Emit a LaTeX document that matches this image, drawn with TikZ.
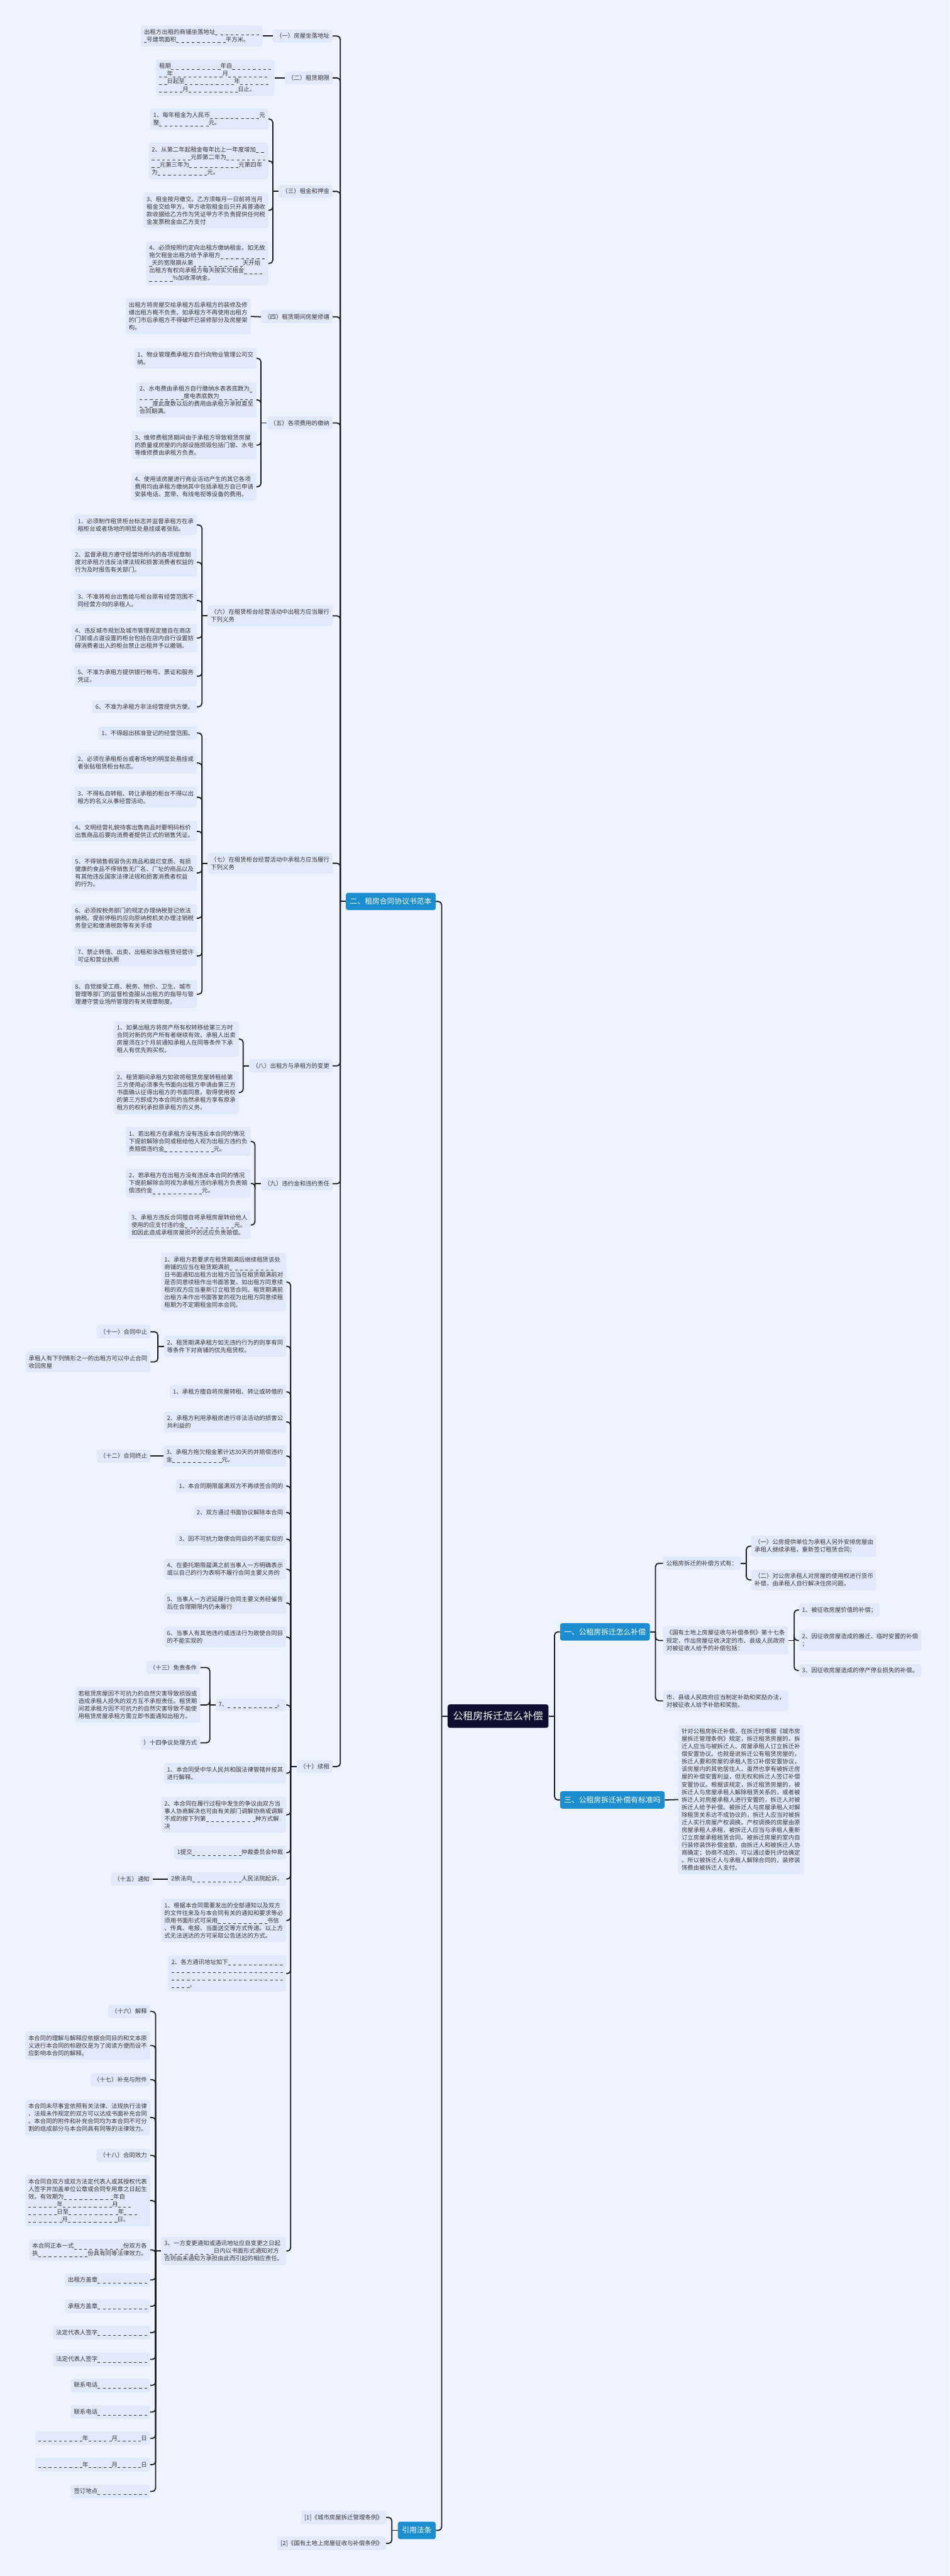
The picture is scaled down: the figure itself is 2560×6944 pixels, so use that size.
\documentclass[tikz,border=0pt]{standalone}
\usepackage{fontspec}
\setmainfont{Noto Sans CJK SC}
\usepackage{xcolor}
\usetikzlibrary{positioning,calc}
\definecolor{mapbg}{RGB}{238,244,255}
\definecolor{mapbox}{RGB}{225,234,251}
\definecolor{mapblue}{RGB}{28,142,208}
\definecolor{mapnavy}{RGB}{14,13,48}
\definecolor{maptext}{RGB}{55,55,60}
\definecolor{mapline}{RGB}{25,25,30}
% blank line for the form fields
\newcommand{\blk}[1]{\rule[-3pt]{7pt}{1.1pt}\ifnum#1>1 \foreach \dd in {2,...,#1}{\hspace{7pt}\rule[-3pt]{7pt}{1.1pt}}\fi}

\begin{document}
\begin{tikzpicture}[x=1pt,y=-1pt,
  root/.style={fill=mapnavy, text=white, rounded corners=6pt, font=\fontsize{27}{32}\selectfont, minimum width=272pt, minimum height=63pt},
  branch/.style={fill=mapblue, text=white, rounded corners=6pt, font=\fontsize{20}{24}\selectfont, inner xsep=11pt, minimum height=47pt},
  card/.style={fill=mapbox, text=maptext, rounded corners=6pt, font=\fontsize{16}{20.4}\selectfont, inner xsep=8.5pt, inner ysep=10pt, align=left},
  lcard/.style={card, anchor=east},
  rcard/.style={card, anchor=west},
  link/.style={draw=mapline, line width=3pt, rounded corners=9pt}]
\fill[mapbg] (0,0) rectangle (2560,6944);
\useasboundingbox (0,0) rectangle (2560,6944);

% Root and main branches
\node[root] (root) at (1343,4626) {公租房拆迁怎么补偿};
\node[branch, anchor=west] (sec1) at (1510,4399) {一、公租房拆迁怎么补偿};
\node[branch, anchor=west] (sec3) at (1510,4852) {三、公租房拆迁补偿有标准吗};
\node[branch, anchor=east] (sec2) at (1175,2430) {二、租房合同协议书范本};
\node[branch, anchor=east] (laws) at (1175,6821) {引用法条};

% Right side: compensation
\node[rcard] (way) at (1788,4214) {公租房拆迁的补偿方式有：};
\node[rcard] (way1) at (2026,4168) {（一）公房提供单位为承租人另外安排房屋由\\承租人继续承租，重新签订租赁合同；};
\node[rcard] (way2) at (2026,4259) {（二）对公房承租人对房屋的使用权进行货币\\补偿，由承租人自行解决住房问题。};
\node[rcard] (rule) at (1788,4422) {《国有土地上房屋征收与补偿条例》第十七条\\规定，作出房屋征收决定的市、县级人民政府\\对被征收人给予的补偿包括：};
\node[rcard] (rule1) at (2154,4340) {1、被征收房屋价值的补偿；};
\node[rcard] (rule2) at (2154,4422) {2、因征收房屋造成的搬迁、临时安置的补偿\\；};
\node[rcard] (rule3) at (2154,4503) {3、因征收房屋造成的停产停业损失的补偿。};
\node[rcard] (aid) at (1788,4585) {市、县级人民政府应当制定补助和奖励办法，\\对被征收人给予补助和奖励。};
\node[rcard] (std) at (1829,4851) {针对公租房拆迁补偿，在拆迁时根据《城市房\\屋拆迁管理条例》规定，拆迁租赁房屋的，拆\\迁人应当与被拆迁人、房屋承租人订立拆迁补\\偿安置协议。也就是说拆迁公有租赁房屋的，\\拆迁人要和房屋的承租人签订补偿安置协议，\\该房屋内的其他居住人，虽然也享有被拆迁房\\屋的补偿安置利益，但无权和拆迁人签订补偿\\安置协议。根据该规定，拆迁租赁房屋的，被\\拆迁人与房屋承租人解除租赁关系的，或者被\\拆迁人对房屋承租人进行安置的，拆迁人对被\\拆迁人给予补偿。被拆迁人与房屋承租人对解\\除租赁关系达不成协议的，拆迁人应当对被拆\\迁人实行房屋产权调换。产权调换的房屋由原\\房屋承租人承租，被拆迁人应当与承租人重新\\订立房屋承租租赁合同。被拆迁房屋的室内自\\行装修装饰补偿金额，由拆迁人和被拆迁人协\\商确定；协商不成的，可以通过委托评估确定\\。所以被拆迁人与承租人解除合同的，装修装\\饰费由被拆迁人支付。};

% Left side: contract headings
\node[lcard] (h1) at (897,97) {（一）房屋坐落地址};
\node[lcard] (h2) at (897,210) {（二）租赁期限};
\node[lcard] (h3) at (897,516) {（三）租金和押金};
\node[lcard] (h4) at (897,854) {（四）租赁期间房屋修缮};
\node[lcard] (h5) at (897,1140) {（五）各项费用的缴纳};
\node[lcard] (h6) at (897,1660) {（六）在租赁柜台经营活动中出租方应当履行\\下列义务};
\node[lcard] (h7) at (897,2327) {（七）在租赁柜台经营活动中承租方应当履行\\下列义务};
\node[lcard] (h8) at (897,2873) {（八）出租方与承租方的变更};
\node[lcard] (h9) at (897,3191) {（九）违约金和违约责任};
\node[lcard] (h10) at (897,4762) {（十）续租};

% (一) to (五)
\node[lcard] (addr) at (708,97) {出租方出租的商铺坐落地址\blk{9}\\\blk{1}号建筑面积\blk{10}平方米。};
\node[lcard] (term) at (740,210) {租期\blk{10}年自\blk{8}\\\blk{2}年\blk{10}月\blk{8}\\\blk{2}日起至\blk{10}年\blk{6}\\\blk{5}月\blk{10}日止。};
\node[lcard] (rent1) at (724,321) {1、每年租金为人民币\blk{10}元\\整\blk{10}元。};
\node[lcard] (rent2) at (724,434) {2、从第二年起租金每年比上一年度增加\blk{2}\\\blk{8}元即第二年为\blk{8}\\\blk{2}元第三年为\blk{10}元第四年\\为\blk{10}元。};
\node[lcard] (rent3) at (724,567) {3、租金按月缴交。乙方须每月一日前将当月\\租金交给甲方。甲方收取租金后只开具普通收\\款收据给乙方作为凭证甲方不负责提供任何税\\金发票税金由乙方支付};
\node[lcard] (rent4) at (724,710) {4、必须按照约定向出租方缴纳租金。如无故\\拖欠租金出租方给予承租方\blk{9}\\\blk{1}天的宽限期从第\blk{10}天开始\\出租方有权向承租方每天按实欠租金\blk{4}\\\blk{5}\%加收滞纳金。};
\node[lcard] (fix) at (676,853) {出租方将房屋交给承租方后承租方的装修及修\\缮出租方概不负责。如承租方不再使用出租方\\的门市后承租方不得破坏已装修部分及房屋架\\构。};
\node[lcard] (fee1) at (692,966) {1、物业管理费承租方自行向物业管理公司交\\纳。};
\node[lcard] (fee2) at (692,1078) {2、水电费由承租方自行缴纳水表表底数为\blk{1}\\\blk{9}度电表底数为\blk{7}\\\blk{3}度此度数以后的费用由承租方承担直至\\合同期满。};
\node[lcard] (fee3) at (692,1200) {3、维修费租赁期间由于承租方导致租赁房屋\\的质量或房屋的内部设施损毁包括门窗、水电\\等维修费由承租方负责。};
\node[lcard] (fee4) at (692,1312) {4、使用该房屋进行商业活动产生的其它各项\\费用均由承租方缴纳其中包括承租方自已申请\\安装电话、宽带、有线电视等设备的费用。};

% (六) lessor duties
\node[lcard] (ld1) at (531,1415) {1、必须制作租赁柜台标志并监督承租方在承\\租柜台或者场地的明显处悬挂或者张贴。};
\node[lcard] (ld2) at (531,1516) {2、监督承租方遵守经营场所内的各项规章制\\度对承租方违反法律法规和损害消费者权益的\\行为及时报告有关部门。};
\node[lcard] (ld3) at (531,1619) {3、不准将柜台出售给与柜台原有经营范围不\\同经营方向的承租人。};
\node[lcard] (ld4) at (531,1720) {4、违反城市规划及城市管理规定擅自在商店\\门前或占道设置的柜台包括在店内自行设置妨\\碍消费者出入的柜台禁止出租并予以撤销。};
\node[lcard] (ld5) at (531,1823) {5、不准为承租方提供银行帐号、票证和服务\\凭证。};
\node[lcard] (ld6) at (531,1905) {6、不准为承租方非法经营提供方便。};

% (七) lessee duties
\node[lcard] (td1) at (531,1976) {1、不得超出核准登记的经营范围。};
\node[lcard] (td2) at (531,2057) {2、必须在承租柜台或者场地的明显处悬挂或\\者张贴租赁柜台标志。};
\node[lcard] (td3) at (531,2149) {3、不得私自转租、转让承租的柜台不得以出\\租方的名义从事经营活动。};
\node[lcard] (td4) at (531,2241) {4、文明经营礼貌待客出售商品时要明码标价\\出售商品后要向消费者提供正式的销售凭证。};
\node[lcard] (td5) at (531,2353) {5、不得销售假冒伪劣商品和腐烂变质、有损\\健康的食品不得销售无厂名、厂址的商品以及\\有其他违反国家法律法规和损害消费者权益\\的行为。};
\node[lcard] (td6) at (531,2475) {6、必须按税务部门的规定办理纳税登记依法\\纳税。提前停租的应向原纳税机关办理注销税\\务登记和缴清税款等有关手续};
\node[lcard] (td7) at (531,2577) {7、禁止转借、出卖、出租和涂改租赁经营许\\可证和营业执照};
\node[lcard] (td8) at (531,2680) {8、自觉接受工商、税务、物价、卫生、城市\\管理等部门的监督检查服从出租方的指导与管\\理遵守营业场所管理的有关规章制度。};

% (八) and (九)
\node[lcard] (chg1) at (644,2801) {1、如果出租方将房产所有权转移给第三方时\\合同对新的房产所有者继续有效。承租人出卖\\房屋须在3个月前通知承租人在同等条件下承\\租人有优先购买权。};
\node[lcard] (chg2) at (644,2945) {2、租赁期间承租方如欲将租赁房屋转租给第\\三方使用必须事先书面向出租方申请由第三方\\书面确认征得出租方的书面同意。取得使用权\\的第三方即成为本合同的当然承租方享有原承\\租方的权利承担原承租方的义务。};
\node[lcard] (pen1) at (676,3077) {1、若出租方在承租方没有违反本合同的情况\\下提前解除合同或租给他人视为出租方违约负\\责赔偿违约金\blk{10}元。};
\node[lcard] (pen2) at (676,3190) {2、若承租方在出租方没有违反本合同的情况\\下提前解除合同视为承租方违约承租方负责赔\\偿违约金\blk{10}元。};
\node[lcard] (pen3) at (676,3302) {3、承租方违反合同擅自将承租房屋转给他人\\使用的应支付违约金\blk{10}元。\\如因此造成承租房屋损坏的还应负责赔偿。};

% (十) renewal and the rest
\node[lcard] (rn1) at (772,3456) {1、承租方若要求在租赁期满后继续租赁该处\\商铺的应当在租赁期满前\blk{9}\\日书面通知出租方出租方应当在租赁期满前对\\是否同意续租作出书面答复。如出租方同意续\\租的双方应当重新订立租赁合同。租赁期满前\\出租方未作出书面答复的视为出租方同意续租\\租期为不定期租金同本合同。};
\node[lcard] (rn2) at (772,3629) {2、租赁期满承租方如无违约行为的则享有同\\等条件下对商铺的优先租赁权。};
\node[lcard] (rn3) at (772,3752) {1、承租方擅自将房屋转租、转让或转借的};
\node[lcard] (rn4) at (772,3833) {2、承租方利用承租房进行非法活动的损害公\\共利益的};
\node[lcard] (rn5) at (772,3925) {3、承租方拖欠租金累计达30天的并赔偿违约\\金\blk{10}元。};
\node[lcard] (rn6) at (772,4006) {1、本合同期限届满双方不再续签合同的};
\node[lcard] (rn7) at (772,4077) {2、双方通过书面协议解除本合同};
\node[lcard] (rn8) at (772,4149) {3、因不可抗力致使合同目的不能实现的};
\node[lcard] (rn9) at (772,4230) {4、在委托期限届满之前当事人一方明确表示\\或以自己的行为表明不履行合同主要义务的};
\node[lcard] (rn10) at (772,4321) {5、当事人一方迟延履行合同主要义务经催告\\后在合理期限内仍未履行};
\node[lcard] (rn11) at (772,4413) {6、当事人有其他违约或违法行为致使合同目\\的不能实现的};
\node[lcard] (rn12) at (772,4596) {7、\blk{10}。};
\node[lcard] (rn13) at (772,4780) {1、本合同受中华人民共和国法律管辖并按其\\进行解释。};
\node[lcard] (rn14) at (772,4892) {2、本合同在履行过程中发生的争议由双方当\\事人协商解决也可由有关部门调解协商或调解\\不成的按下列第\blk{10}种方式解\\决};
\node[lcard] (rn15) at (772,4994) {1提交\blk{10}仲裁委员会仲裁};
\node[lcard] (rn16) at (772,5065) {2依法向\blk{10}人民法院起诉。};
\node[lcard] (rn17) at (772,5177) {1、根据本合同需要发出的全部通知以及双方\\的文件往来及与本合同有关的通知和要求等必\\须用书面形式可采用\blk{10}书信\\、传真、电报、当面送交等方式传递。以上方\\式无法送达的方可采取公告送达的方式。};
\node[lcard] (rn18) at (772,5320) {2、各方通讯地址如下\blk{11}\\\blk{22}\\\blk{22}\\\blk{4}。};
\node[lcard] (rn19) at (772,6068) {3、一方变更通知或通讯地址应自变更之日起\\\blk{10}日内以书面形式通知对方\\否则由未通知方承担由此而引起的相应责任。};

% far left column
\node[lcard] (stop) at (406,3590) {（十一）合同中止};
\node[lcard] (stopc) at (406,3671) {承租人有下列情形之一的出租方可以中止合同\\收回房屋};
\node[lcard] (end) at (406,3925) {（十二）合同终止};
\node[lcard] (free) at (540,4495) {（十三）免责条件};
\node[lcard] (freec) at (540,4596) {若租赁房屋因不可抗力的自然灾害导致损毁或\\造成承租人损失的双方互不承担责任。租赁期\\间若承租方因不可抗力的自然灾害导致不能使\\用租赁房屋承租方需立即书面通知出租方。};
\node[lcard] (dispute) at (540,4698) {）十四争议处理方式};
\node[lcard] (notice) at (412,5065) {（十五）通知};
\node[lcard] (f1) at (405,5422) {（十六）解释};
\node[lcard] (f2) at (405,5514) {本合同的理解与解释应依据合同目的和文本原\\义进行本合同的标题仅是为了阅读方便而设不\\应影响本合同的解释。};
\node[lcard] (f3) at (405,5606) {（十七）补充与附件};
\node[lcard] (f4) at (405,5708) {本合同未尽事宜依照有关法律、法规执行法律\\、法规未作规定的双方可以达成书面补充合同\\。本合同的附件和补充合同均为本合同不可分\\割的组成部分与本合同具有同等的法律效力。};
\node[lcard] (f5) at (405,5810) {（十八）合同效力};
\node[lcard] (f6) at (405,5932) {本合同自双方或双方法定代表人或其授权代表\\人签字并加盖单位公章或合同专用章之日起生\\效。有效期为\blk{10}年自\\\blk{6}年\blk{10}月\blk{3}\\\blk{6}日至\blk{10}年\blk{3}\\\blk{7}月\blk{10}日。};
\node[lcard] (f7) at (405,6065) {本合同正本一式\blk{10}份双方各\\执\blk{10}份具有同等法律效力。};
\node[lcard] (f8) at (405,6146) {出租方盖章\blk{10}};
\node[lcard] (f9) at (405,6217) {承租方盖章\blk{10}};
\node[lcard] (f10) at (405,6288) {法定代表人签字\blk{10}};
\node[lcard] (f11) at (405,6360) {法定代表人签字\blk{10}};
\node[lcard] (f12) at (405,6430) {联系电话\blk{10}};
\node[lcard] (f13) at (405,6502) {联系电话\blk{10}};
\node[lcard] (f14) at (405,6573) {\blk{9}年\blk{5}月\blk{5}日};
\node[lcard] (f15) at (405,6644) {\blk{9}年\blk{5}月\blk{5}日};
\node[lcard] (f16) at (405,6716) {签订地点\blk{10}};

% laws
\node[lcard] (law1) at (1041,6786) {[1]《城市房屋拆迁管理条例》};
\node[lcard] (law2) at (1041,6856) {[2]《国有土地上房屋征收与补偿条例》};

% Connections, right side
\draw[link] (root.east) -- ++(16,0) coordinate (sr);
\foreach \b in {sec1,sec3} \draw[link] (sr) |- (\b.west);
\draw[link] (sec1.east) -- ++(15,0) coordinate (s1);
\foreach \c in {way,rule,aid} \draw[link] (s1) |- (\c.west);
\draw[link] (way.east) -- ++(15,0) coordinate (sw);
\foreach \c in {way1,way2} \draw[link] (sw) |- (\c.west);
\draw[link] (rule.east) -- ++(16,0) coordinate (sru);
\foreach \c in {rule1,rule2,rule3} \draw[link] (sru) |- (\c.west);
\draw[link] (sec3.east) -- (std.west);

% Connections, left side
\draw[link] (root.west) -- ++(-16,0) coordinate (sl);
\foreach \b in {sec2,laws} \draw[link] (sl) |- (\b.east);
\draw[link] (sec2.west) -- ++(-15,0) coordinate (s2);
\foreach \c in {1,...,10} \draw[link] (s2) |- (h\c.east);
\draw[link] (h1.west) -- (addr.east);
\draw[link] (h2.west) -- (term.east);
\draw[link] (h3.west) -- ++(-16,0) coordinate (s3);
\foreach \c in {1,...,4} \draw[link] (s3) |- (rent\c.east);
\draw[link] (h4.west) -- (fix.east);
\draw[link] (h5.west) -- ++(-16,0) coordinate (s5);
\foreach \c in {1,...,4} \draw[link] (s5) |- (fee\c.east);
\draw[link] (h6.west) -- ++(-15,0) coordinate (s6);
\foreach \c in {1,...,6} \draw[link] (s6) |- (ld\c.east);
\draw[link] (h7.west) -- ++(-15,0) coordinate (s7);
\foreach \c in {1,...,8} \draw[link] (s7) |- (td\c.east);
\draw[link] (h8.west) -- ++(-16,0) coordinate (s8);
\foreach \c in {1,2} \draw[link] (s8) |- (chg\c.east);
\draw[link] (h9.west) -- ++(-16,0) coordinate (s9);
\foreach \c in {1,2,3} \draw[link] (s9) |- (pen\c.east);
\draw[link] (h10.west) -- ++(-16,0) coordinate (s10);
\foreach \c in {1,...,19} \draw[link] (s10) |- (rn\c.east);
\draw[link] (rn2.west) -- ++(-16,0) coordinate (st);
\foreach \c in {stop,stopc} \draw[link] (st) |- (\c.east);
\draw[link] (rn5.west) -- (end.east);
\draw[link] (rn12.west) -- ++(-15,0) coordinate (sf);
\foreach \c in {free,freec,dispute} \draw[link] (sf) |- (\c.east);
\draw[link] (rn16.west) -- (notice.east);
\draw[link] (rn19.west) -- ++(-15,0) coordinate (sn);
\foreach \c in {1,...,16} \draw[link] (sn) |- (f\c.east);
\draw[link] (laws.west) -- ++(-16,0) coordinate (sla);
\foreach \c in {law1,law2} \draw[link] (sla) |- (\c.east);
\end{tikzpicture}
\end{document}
